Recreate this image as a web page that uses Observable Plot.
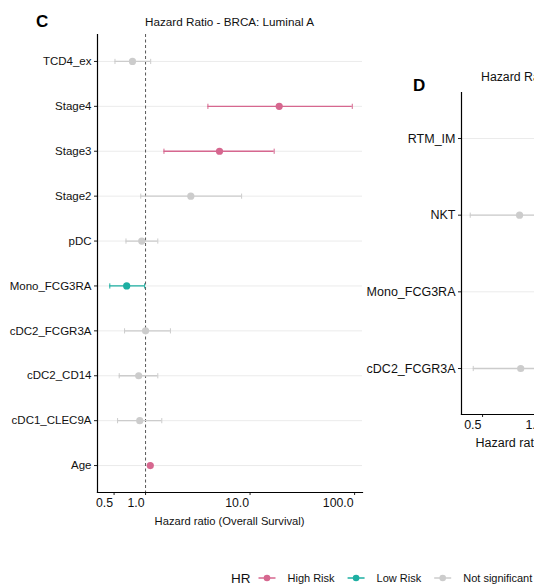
<!DOCTYPE html>
<html><head><meta charset="utf-8">
<script src="https://cdn.jsdelivr.net/npm/d3@7"></script>
<script src="https://cdn.jsdelivr.net/npm/@observablehq/plot@0.6"></script>
<style>
html,body{margin:0;padding:0;background:#fff}
body{width:534px;height:588px;overflow:hidden;position:relative;font-family:"Liberation Sans",Arial,sans-serif}
.panel{position:absolute;top:0}
.panel svg{max-width:none !important}
#overlay{position:absolute;left:0;top:0;pointer-events:none}
</style></head><body>
<div id="c" class="panel" style="left:0px"></div>
<div id="d" class="panel" style="left:361px;width:320px"></div>
<svg id="overlay" width="534" height="588"></svg>
<script>
// ---------- data: panel C (BRCA: Luminal A) ----------
const termsC = ["TCD4_ex","Stage4","Stage3","Stage2","pDC","Mono_FCG3RA","cDC2_FCGR3A","cDC2_CD14","cDC1_CLEC9A","Age"];
const hrC    = [0.75, 19.0, 5.1, 2.71, 0.92, 0.66, 1.00, 0.86, 0.88, 1.11];
const loC    = [0.51, 3.95, 1.50, 0.90, 0.65, 0.455, 0.63, 0.56, 0.54, 1.08];
const hiC    = [1.12, 95.0, 17.0, 8.3, 1.31, 0.98, 1.73, 1.31, 1.43, 1.14];
const groupC = ["Not significant","High Risk","High Risk","Not significant","Not significant","Low Risk","Not significant","Not significant","Not significant","High Risk"];
const ticksC = [0.5, 1, 10, 100];

// ---------- data: panel D (partially visible) ----------
const termsD = ["RTM_IM","NKT","Mono_FCG3RA","cDC2_FCGR3A"];
const hrD    = [1.25, 0.76, 1.8, 0.77];
const loD    = [0.90, 0.435, 1.15, 0.45];
const hiD    = [1.75, 1.35, 2.9, 1.35];
const groupD = ["Not significant","Not significant","High Risk","Not significant"];
const ticksD = [0.5, 1, 2, 4];

// ---------- legend ----------
const groups = ["High Risk","Low Risk","Not significant"];
const colors = ["#D6678F","#1DAFA2","#CCCCCC"];

const rowsC = termsC.map((t,i)=>({term:t,hr:hrC[i],lo:loC[i],hi:hiC[i],group:groupC[i]}));
const rowsD = termsD.map((t,i)=>({term:t,hr:hrD[i],lo:loD[i],hi:hiD[i],group:groupD[i]}));

// vertical cap symbol for error-bar ends
const capSymbol = {draw(ctx){ ctx.moveTo(0,-2.6); ctx.lineTo(0,2.6); }};

function forest(rows, terms, o){
  return Plot.plot({
    width:o.width, height:o.height,
    marginLeft:o.ml, marginRight:o.mr, marginTop:o.mt, marginBottom:o.mb,
    style:{fontFamily:"Liberation Sans, Arial, sans-serif", fontSize:o.fs+"px", color:"#111", background:"transparent", overflow:"visible", maxWidth:"none"},
    x:{type:"log", domain:o.xdomain, label:null},
    y:{type:"point", domain:terms, padding:0.6, round:false, label:null},
    color:{domain:groups, range:colors},
    marks:[
      Plot.ruleY(terms, {y:d=>d, stroke:"#EBEBEB", strokeWidth:1}),
      Plot.ruleX([1], {stroke:"#444", strokeWidth:0.9, strokeDasharray:"3,2.5"}),
      Plot.ruleY(rows, {y:"term", x1:"lo", x2:"hi", stroke:"group", strokeWidth:1.3}),
      Plot.dot(rows, {x:"lo", y:"term", stroke:"group", symbol:capSymbol, strokeWidth:1}),
      Plot.dot(rows, {x:"hi", y:"term", stroke:"group", symbol:capSymbol, strokeWidth:1}),
      Plot.dot(rows, {x:"hr", y:"term", fill:"group", r:3.6}),
      Plot.axisY({tickSize:3, tickPadding:o.ypad, fontSize:o.yfs, stroke:"#222", fill:"#111"}),
      Plot.axisX({ticks:o.ticks, tickFormat:()=>"", tickSize:3, stroke:"#222"}),
      Plot.text(o.ticks, {x:d=>d, text:o.fmt, frameAnchor:"bottom", lineAnchor:"top", dy:6, dx:-1, textAnchor:"end", fontSize:o.xfs, fill:"#111"}),
      Plot.frame({anchor:"left", stroke:"#000", strokeWidth:1.2}),
      Plot.frame({anchor:"bottom", stroke:"#000", strokeWidth:1.2})
    ]
  });
}

document.getElementById("c").append(forest(rowsC, termsC, {
  width:370, height:530, ml:97, mr:8, mt:34, mb:38, fs:11,
  xdomain:[0.347,119], ticks:ticksC, fmt:d3.format(".1f"), ypad:3, yfs:11.5, xfs:12.3
}));
document.getElementById("d").append(forest(rowsD, termsD, {
  width:317, height:464, ml:100, mr:10, mt:92, mb:50, fs:12,
  xdomain:[0.394,4.1], ticks:ticksD, fmt:d3.format(".1f"), ypad:3, yfs:12.5, xfs:12.5
}));

// ---------- overlay texts ----------
const ov = d3.select("#overlay").style("font-family","Liberation Sans, Arial, sans-serif");
ov.append("text").attr("x",36).attr("y",27).attr("font-size",17).attr("font-weight","bold").attr("fill","#000").text("C");
ov.append("text").attr("x",229.5).attr("y",26).attr("text-anchor","middle").attr("font-size",11.7).attr("fill","#111").text("Hazard Ratio - BRCA: Luminal A");
ov.append("text").attr("x",229.5).attr("y",525).attr("text-anchor","middle").attr("font-size",11.2).attr("fill","#111").text("Hazard ratio (Overall Survival)");
ov.append("text").attr("x",413).attr("y",91).attr("font-size",17).attr("font-weight","bold").attr("fill","#000").text("D");
ov.append("text").attr("x",481).attr("y",81).attr("font-size",12.3).attr("fill","#111").text("Hazard Ratio - BRCA: Luminal B");
ov.append("text").attr("x",475.5).attr("y",447).attr("font-size",12.5).attr("fill","#111").text("Hazard ratio (Overall Survival)");

// legend
const ly = 578;
const lg = ov.append("g");
const hrt = lg.append("text").attr("x",231).attr("y",ly+5).attr("font-size",13.5).attr("fill","#111").text("HR");
let x = 231 + hrt.node().getComputedTextLength() + 8;
groups.forEach((g,i)=>{
  lg.append("line").attr("x1",x).attr("x2",x+17).attr("y1",ly).attr("y2",ly).attr("stroke",colors[i]).attr("stroke-width",1.5);
  lg.append("circle").attr("cx",x+8.5).attr("cy",ly).attr("r",3.3).attr("fill",colors[i]);
  const t = lg.append("text").attr("x",x+29).attr("y",ly+4).attr("font-size",11).attr("fill","#111").text(g);
  x = x + 29 + t.node().getComputedTextLength() + 13;
});
</script>
</body></html>
